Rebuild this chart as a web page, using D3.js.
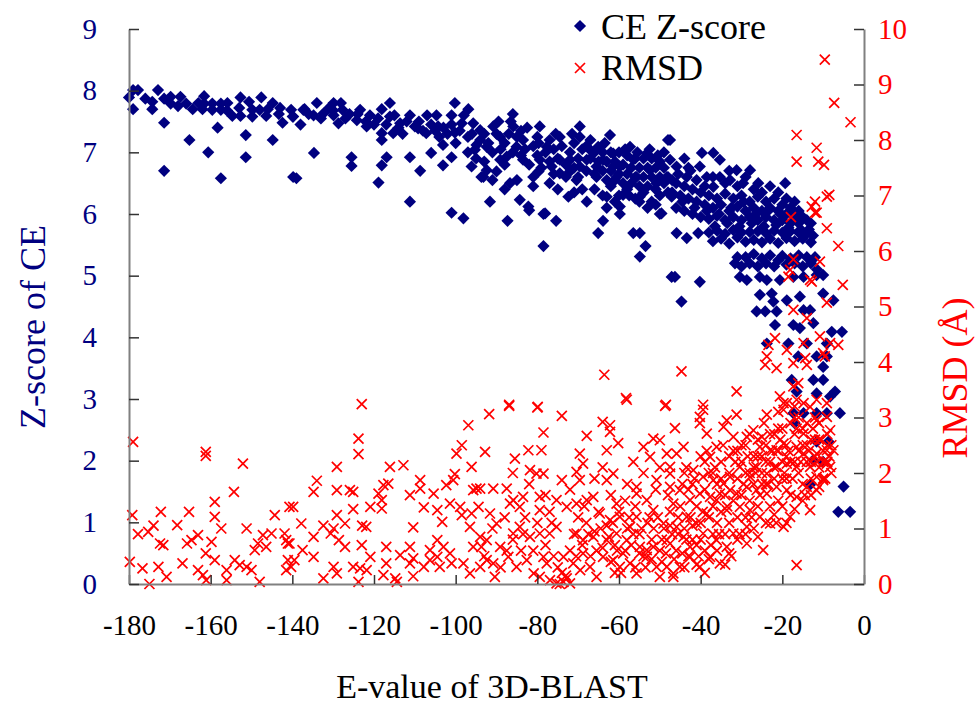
<!DOCTYPE html>
<html>
<head>
<meta charset="utf-8">
<script src="https://cdn.jsdelivr.net/npm/d3@7"></script>
<style>
  body { margin: 0; background: #fff; }
  text { font-family: "Liberation Serif", "Times New Roman", serif; }
</style>
</head>
<body>
<svg id="chart" width="976" height="704"></svg>
<script>
// Tick values for the three axes
const eValueTicks = [-180, -160, -140, -120, -100, -80, -60, -40, -20, 0];
const zTicks = [0, 1, 2, 3, 4, 5, 6, 7, 8, 9];
const rmsdTicks = [0, 1, 2, 3, 4, 5, 6, 7, 8, 9, 10];

// CE Z-score per alignment: [E-value of 3D-BLAST, Z-score]
const ceZscore = [
  [-180,7.89],[-179,8.01],[-177.8,8.01],[-179,7.70],[-176,7.87],[-174.3,7.82],[-174.3,7.70],[-172.9,8.01],
  [-171.4,7.87],[-169.8,7.90],[-169.8,7.79],[-171.4,7.48],[-171.4,6.70],[-167.4,7.90],[-166,7.79],[-164.4,7.70],
  [-165.2,7.20],[-161.6,7.91],[-161.6,7.79],[-162,7.70],[-159.6,7.79],[-159.6,7.69],[-160.6,7.0],[-158.3,7.40],
  [-157.5,7.79],[-157.5,7.69],[-157.5,6.58],[-155.9,7.80],[-154.7,7.59],[-152.7,7.89],[-152.7,7.59],[-151.4,7.28],
  [-151.4,6.92],[-150.6,7.82],[-149.8,7.69],[-149.8,7.58],[-147.6,7.89],[-148,7.69],[-146.4,7.59],[-144.8,7.80],
  [-144.8,7.20],[-143.3,7.62],[-142.4,7.48],[-140.3,7.69],[-139.9,7.58],[-139,6.58],
  [-168,7.75],[-163,7.8],[-156,7.68],[-153,7.72],[-146,7.7],[-143,7.72],[-138,7.45],
  [-139.8,7.58],[-139.8,6.60],[-137.3,7.69],[-134.7,6.99],[-134,7.80],[-134.8,7.60],[-132.4,7.63],[-129.9,7.80],
  [-129.9,7.60],[-128.7,7.47],[-128.1,7.80],[-127.7,7.69],[-125.5,6.92],[-125.5,6.78],[-124.2,7.52],[-123.4,7.69],
  [-121.8,7.42],[-118.9,6.51],[-118.1,7.70],[-118.1,7.31],[-118.1,7.20],[-118.1,6.79],[-116.9,6.92],[-116.1,7.80],
  [-116.1,7.58],[-115.3,7.31],[-113.6,7.47],[-111.2,7.60],[-111.2,6.92],[-111.2,6.20],[-109.2,7.39],[-108.7,6.70],
  [-107.2,7.31],[-106,6.99],[-104.7,7.60],[-104.3,7.42],[-103.1,7.12],[-103.1,6.79],[-101,6.92],[-101,7.60],
  [-100.2,7.80],[-100.2,7.32],[-101,6.02],[-98.1,5.93],[-98.5,7.47],[-96.9,7.70],[-95.7,7.47],[-96.1,6.77],
  [-95.3,7.04],[-94.9,7.12],[-93.7,6.60],
  [-137,7.7],[-136,7.62],[-131,7.72],[-127,7.55],[-126,7.62],[-122,7.5],[-121,7.6],[-120,7.45],[-114,7.4],
  [-112,7.5],[-110,7.42],[-108,7.35],[-106,7.45],[-105,7.35],[-103,7.4],[-102,7.3],[-99,7.35],[-97,7.25],
  [-96,7.3],[-94,7.2],
  [-133,7.55],[-130,7.68],[-124,7.62],[-119,7.55],[-117,7.45],[-115,7.6],[-113,7.3],[-109,7.5],[-107,7.6],
  [-104,7.25],[-101,7.45],[-100,7.15],[-98,7.6],[-97,7.0],[-95,6.9],[-93,6.85],[-91,6.55],
  [-86,7.62],[-94,7.36],[-90.8,7.42],[-89.1,7.25],[-93.2,6.60],[-92.4,7.09],[-90,6.69],[-91.6,6.20],[-86.7,6.50],
  [-87.5,6.93],[-85.9,7.42],[-85.1,7.09],[-83.5,7.20],[-84.3,6.23],[-82.2,6.12],[-79.4,7.42],[-79.7,7.15],
  [-79.4,6.88],[-79.7,6.69],[-78.1,6.01],[-77.7,7.09],[-76.5,6.77],[-74.5,7.25],[-74.5,6.88],[-74.5,6.66],
  [-72.4,6.28],[-72,6.69],[-69.6,7.42],[-69.6,7.25],[-70.4,6.55],[-67.9,6.88],[-67.9,6.20],[-67.1,7.04],
  [-65.5,6.60],[-65.1,7.09],[-63.9,6.88],[-63,6.28],[-62.2,7.28],[-61.4,6.77],[-60.6,6.60],[-59.8,6.12],
  [-59,6.31],[-57.3,7.09],[-56.5,6.88],[-55.7,6.60],[-54.9,6.28],[-53.2,6.98],[-52.4,6.71],[-50.8,6.50],
  [-49.6,6.01],[-48,7.20],[-47.5,6.88],[-48.3,6.60],[-47.1,6.28],[-61.4,6.98],[-59.8,6.77],[-69.6,6.77],
  [-65.5,6.77],[-72,6.88],[-83.5,6.88],[-89.1,6.88],[-92.4,6.71],
  [-93,7.3],[-92,7.15],[-91,7.0],[-90,7.3],[-89,7.05],[-88,7.15],[-88,6.8],[-87,7.3],[-86,7.0],[-85,7.25],
  [-84,6.95],[-84,7.35],[-83,7.05],[-82,6.8],[-81,7.1],[-81,6.6],[-80,7.25],[-80,6.95],[-79,6.75],[-78,7.0],
  [-77,7.2],[-77,6.85],[-76,6.65],[-76,7.05],[-75,6.9],[-74,7.1],[-73,6.8],[-73,6.6],[-72,7.0],[-71,6.75],
  [-71,7.15],[-70,6.9],[-70,6.6],[-69,7.05],[-68,6.7],[-68,7.1],[-67,6.9],[-66,6.65],[-66,7.0],[-65,6.85],
  [-64,6.7],[-64,7.0],[-63,6.55],[-63,6.85],[-62,7.0],[-62,6.7],[-61,6.55],[-61,6.85],[-60,6.65],[-60,7.0],
  [-59,6.5],[-59,6.8],[-58,6.95],[-58,6.65],[-57,6.5],[-57,6.75],[-56,6.9],[-56,6.6],[-55,6.75],[-55,6.45],
  [-54,6.9],[-54,6.6],[-53,6.75],[-53,6.45],[-52,6.6],[-52,6.9],[-51,6.75],[-51,6.4],[-50,6.6],[-50,6.85],
  [-49,6.5],[-49,6.75],[-48,6.6],[-48,6.35],[-66,6.4],[-64,6.3],[-62,6.45],[-60,6.3],[-58,6.4],[-56,6.25],
  [-54,6.35],[-52,6.2],[-50,6.3],
  [-58.5,7.05],[-55.5,7.0],[-52.5,7.05],[-50.5,6.95],[-49,7.0],[-63.5,7.15],[-67,7.2],[-71.5,7.3],[-75.5,7.3],
  [-82.5,7.4],[-86.5,7.5],[-89.5,7.5],[-57.5,6.3],[-55,6.2],[-53,6.1],[-51,6.15],[-61,6.2],[-63,6.1],[-69,6.4],
  [-71,6.35],[-75,6.4],[-77,6.5],[-81,6.45],[-85,6.55],[-88,6.4],
  [-87.3,5.89],[-82,6.06],[-78.5,6.0],[-75.4,5.89],[-78.5,5.48],[-63.9,5.89],[-65.1,5.69],[-59.8,6.0],
  [-56.5,5.69],[-54.9,5.69],[-53.5,5.48],[-54.9,5.31],[-50,6.0],[-47.1,4.98],
  [-47.5,7.20],[-39.7,6.99],[-36.9,6.99],[-35.3,6.88],[-40.2,6.77],[-45.9,6.77],[-43.4,6.60],[-38.5,6.60],
  [-35.3,6.60],[-31.2,6.71],[-27.9,6.71],[-32.8,6.55],[-29.6,6.50],[-25.9,6.50],[-19.3,6.50],[-36.9,6.44],
  [-47,6.55],[-45.5,6.65],[-44,6.9],[-42.5,6.7],
  [-46,6.5],[-44,6.45],[-43,6.75],[-41,6.55],[-39,6.45],[-37,6.6],[-34,6.5],[-33,6.7],[-31,6.45],[-29,6.6],
  [-27,6.4],[-25,6.35],[-23,6.45],[-21,6.35],[-19,6.25],[-17,6.2],[-16,6.05],[-14,5.9],[-13,5.85],
  [-47,6.35],[-46,6.1],[-45,6.3],[-44,6.05],[-43,6.25],[-42,6.4],[-42,6.0],[-41,6.2],[-40,6.35],[-40,5.95],
  [-39,6.15],[-38,6.3],[-38,5.92],[-37,6.1],[-36,6.25],[-36,5.97],[-35,6.15],[-34,6.33],[-34,5.9],[-33,6.05],
  [-32,6.25],[-32,5.95],[-31,6.12],[-30,6.3],[-30,5.9],[-29,6.05],[-28,6.2],[-28,5.95],[-27,6.1],[-26,6.28],
  [-26,5.9],[-25,6.05],[-24,6.2],[-24,5.95],[-23,6.1],[-22,5.9],[-22,6.25],[-21,6.05],[-20,6.15],[-20,5.9],
  [-19,6.0],[-18,6.1],[-18,5.85],[-17,5.95],[-16,5.85],[-15,5.95],
  [-44.5,6.2],[-41.5,6.1],[-38.5,6.05],[-35.5,6.0],[-32.5,6.1],[-29.5,6.2],[-26.5,6.0],[-23.5,6.05],
  [-20.5,6.0],[-17.5,6.05],[-36.5,5.8],[-33.5,5.85],[-30.5,5.8],[-27.5,5.85],[-24.5,5.8],[-21.5,5.82],
  [-18.5,5.78],[-15.5,5.75],[-13.5,5.75],
  [-45.9,5.69],[-43.4,5.61],[-40.6,5.69],
  [-38,5.7],[-37,5.56],[-36,5.73],[-35,5.6],[-34,5.68],[-33,5.52],[-32,5.74],[-31,5.62],[-30,5.7],[-29,5.55],
  [-28,5.71],[-27,5.58],[-26,5.72],[-25,5.54],[-24,5.69],[-23,5.6],[-22,5.73],[-21,5.53],[-20,5.7],[-19,5.61],
  [-18,5.72],[-17,5.56],[-16,5.7],[-15,5.6],[-14,5.68],[-13,5.54],[-12.5,5.65],
  [-46.3,4.98],[-40.2,4.90],[-44.7,4.58],
  [-31,5.3],[-30,5.15],[-29,5.3],[-28,5.2],[-27,5.35],[-26,5.15],[-25,5.28],[-24,5.2],[-23,5.33],[-22,5.15],
  [-21,5.25],[-20,5.32],[-19,5.18],[-18,5.28],[-17,5.2],[-16,5.33],[-15,5.15],[-14,5.3],[-13,5.2],[-12,5.3],
  [-11.5,5.1],
  [-31.6,5.2],[-30.4,4.98],[-28.7,4.93],[-25.5,4.98],[-23.8,4.93],[-20.6,4.93],[-17.3,4.98],[-14.8,4.98],
  [-11.6,5.01],[-10,5.01],[-25.5,4.69],[-22.6,4.71],[-22.2,4.58],[-18.9,4.60],[-26.3,4.42],[-24.2,4.42],
  [-21.4,4.42],[-21.8,4.20],[-15.7,4.66],[-14.8,4.44],[-13.2,4.44],[-10,4.71],[-7.5,4.60],[-17.3,4.20],
  [-15.7,4.15],[-12.4,4.23],[-7.9,4.09],[-5.4,4.09],[-23.8,3.90],[-18.5,3.90],[-16.1,3.69],[-14,3.90],
  [-11.6,3.69],[-9.1,3.69],[-10,3.52],[-9.1,3.90],[-17.7,3.31],[-12.4,3.31],[-10,3.31],[-16.5,3.12],
  [-7.1,3.12],[-8.3,3.04],[-11.6,3.09],
  [-17.3,2.77],[-14.8,2.77],[-11.6,2.77],[-9.1,2.77],[-5.9,2.77],[-17,2.61],[-11.6,2.31],[-8.7,2.31],
  [-12.4,2.01],[-10,1.98],[-13.2,1.61],[-5,1.58],[-6.3,1.17],[-3.4,1.17]
];

// RMSD per alignment: [E-value of 3D-BLAST, RMSD in Å]
const rmsd = [
  [-179,2.56],[-179.2,1.24],[-179.8,0.40],[-177.8,0.90],[-176.7,0.28],[-175.3,0.94],[-174,1.05],[-175,0.0],
  [-172.2,1.30],[-172.4,0.73],[-171.6,0.70],[-172.8,0.31],[-170.8,0.13],[-168.2,1.06],[-166.9,0.37],[-165.3,1.30],
  [-165.8,0.73],[-164.7,0.79],[-163.1,0.88],[-163.1,0.25],[-161.9,0.16],[-161.2,2.38],[-161.2,2.31],[-161.1,0.07],
  [-161.2,0.55],[-159.8,0.76],[-159,1.48],[-159,1.21],[-159,0.43],[-157.4,1.00],[-156.1,0.25],[-156.1,0.07],
  [-154.3,1.66],[-154.1,0.43],[-152.9,0.34],[-152.1,2.17],[-151.2,1.00],[-151.2,0.31],[-150,0.25],[-149.2,0.61],
  [-148.4,0.73],[-148,0.04],[-147.2,0.88],[-146.4,0.67],[-145.1,0.91],[-144.3,1.24],[-141.9,0.91],[-141.5,0.79],
  [-141.1,0.73],[-140.7,1.39],[-141.1,0.43],[-141.5,0.25],[-140.3,0.31],
  [-123,3.24],[-123.8,2.62],[-123.8,2.34],[-129.1,2.11],[-134,1.86],[-134.8,1.66],[-129.1,1.69],[-125.9,1.69],
  [-125.1,1.66],[-139.8,1.39],[-125.1,1.35],[-129.1,1.24],[-137.8,1.09],[-132.4,1.05],[-129.9,1.00],[-127.1,1.09],
  [-122.9,1.05],[-130.6,0.91],[-128.6,0.79],[-134.8,0.85],[-140.7,0.73],[-137.5,0.61],[-139.5,0.43],[-134.8,0.49],
  [-127.1,0.67],[-123,0.70],[-120.9,0.49],[-132.4,0.10],[-129.9,0.31],[-129.1,0.19],[-125.1,0.31],[-123.4,0.28],
  [-121.8,0.25],[-123.8,0.04],[-116.1,2.11],[-112.8,2.14],[-117.7,1.78],[-116.5,1.81],[-118.9,1.63],[-118.1,1.51],
  [-120.9,1.39],[-118.1,1.36],[-121.9,1.03],[-117,0.67],[-117,0.37],[-117.7,0.16],[-114.4,0.04],[-114.8,0.10],
  [-111.2,1.60],[-108.7,1.87],[-108.7,1.72],[-107.8,1.38],[-110.4,1.02],[-111.2,0.67],[-110.4,0.46],[-113.6,0.52],
  [-111.2,0.37],[-110.4,0.14],[-105.4,1.63],[-104.5,1.33],[-103.3,1.12],[-104.5,0.79],[-106.3,0.61],[-104.5,0.49],
  [-103,0.67],[-102.3,1.78],[-100.6,1.87],[-100.2,1.98],[-99.8,2.35],[-98.5,2.50],[-96.9,2.86],[-96.1,2.11],
  [-101.4,1.45],[-98.9,1.39],[-98.5,1.24],[-96.1,1.27],[-94.4,1.39],[-96.5,1.03],[-95.7,1.69],[-94.9,1.72],
  [-101,0.37],[-98.1,0.37],[-96.5,0.19],[-95.7,0.67],[-93.7,0.67],[-106.3,0.43],[-107.8,0.31],[-103.9,0.31],
  [-101.4,0.55],
  [-86.9,3.21],[-80,3.18],[-91.8,3.06],[-74,3.03],[-78.5,2.73],[-64,2.92],[-62.2,2.86],[-62.2,2.74],
  [-58.1,3.32],[-48.7,3.21],[-67.9,2.67],[-60.2,2.54],[-92.8,2.38],[-85.5,2.26],[-82.2,2.41],[-79,2.41],
  [-63,2.41],[-69.6,2.35],[-68.8,2.17],[-81.8,2.05],[-80.2,1.99],[-78.5,1.99],[-74,1.87],[-70.4,2.02],
  [-69.6,1.87],[-61.4,1.99],[-63,1.87],[-54,2.47],[-51.6,2.62],[-50,2.59],[-56.5,2.20],[-52.4,2.29],
  [-48.3,2.35],[-55.7,1.75],[-55.7,1.63],[-50.8,1.87],[-47.5,1.99],[-94,1.72],[-90.8,1.72],[-87.5,1.72],
  [-85.9,1.51],[-83.5,1.57],[-79.4,1.57],[-91.6,1.27],[-90,1.09],[-86.7,1.45],[-84.3,1.39],[-79.4,1.33],
  [-75.3,1.51],[-72.8,1.39],[-70.4,1.45],[-67.9,1.51],[-66.3,1.57],[-64.7,1.27],[-62.2,1.15],[-60.6,1.45],
  [-59.8,1.21],[-57.3,1.03],[-55.7,1.21],[-53.2,1.51],[-51.6,1.33],[-49.1,1.09],[-46.7,1.45],[-94,0.85],
  [-92.4,0.79],[-89.1,0.67],[-85.9,0.91],[-84.3,1.03],[-81.8,0.85],[-79.4,0.91],[-77,0.91],[-75.3,1.03],
  [-70.4,0.91],[-68.8,0.79],[-66.3,0.85],[-63,0.79],[-60.6,0.91],[-58.1,0.79],[-54.9,0.67],[-53.2,0.61],
  [-51.6,0.67],[-48.3,0.79],[-92.4,0.43],[-90.8,0.37],[-94,0.31],[-90.4,0.13],[-87.1,0.49],[-85.1,0.31],
  [-82.6,0.43],[-80.9,0.19],[-78.5,0.49],[-77.7,0.37],[-79.4,0.13],[-76.9,0.07],[-75.3,0.01],[-73.6,0.04],
  [-72,0.01],[-74.5,0.0],[-72.8,0.10],[-73.6,0.49],[-71.2,0.37],[-68.8,0.55],[-67.1,0.31],[-65.5,0.13],
  [-63.9,0.49],[-61.4,0.43],[-59.8,0.31],[-57.3,0.37],[-55.7,0.19],[-53.2,0.49],[-50.8,0.31],[-48.3,0.31],
  [-50,0.13],[-46.7,0.19],
  [-93,0.5],[-91,1.0],[-89,0.3],[-88,1.2],[-86,0.8],[-84,0.6],[-83,1.2],[-81,0.6],[-80,1.1],[-78,0.7],
  [-77,1.3],[-76,0.5],[-75,0.3],[-74,0.2],[-73,0.15],[-72,0.6],[-71,0.9],[-70,1.2],[-69,0.7],[-68,1.1],
  [-67,0.5],[-66,0.95],[-65,1.3],[-64,0.65],[-63,1.05],[-62,0.4],[-61,0.7],[-60,1.3],[-59,0.55],[-58,1.0],
  [-57,0.7],[-56,1.4],[-55,0.9],[-54,0.5],[-53,1.1],[-52,0.8],[-51,1.7],[-50,0.6],[-49,1.0],[-48,1.6],
  [-47,0.9],[-66,1.9],[-64,2.1],[-62,1.6],[-58,1.8],[-54,2.0],[-50,2.1],[-86,2.0],[-82,1.8],[-78,1.6],[-72,1.7],
  [-56.5,0.9],[-52.5,1.2],[-49.5,0.8],[-47.5,1.3],[-45.5,0.9],[-60.5,0.6],[-64.5,1.0],[-68.5,1.4],[-70.5,0.5],
  [-76.5,1.1],[-83.5,0.9],[-87.5,0.6],[-58.5,1.5],[-61.5,1.1],
  [-59.5,0.2],[-58.5,0.6],[-57.5,1.2],[-56,0.3],[-55,0.55],[-54.5,1.0],[-53.5,0.3],[-52,0.45],[-51.5,1.0],
  [-50.5,1.2],[-49.5,0.4],[-48.5,0.55],[-47.5,1.05],[-46.5,0.45],[-45.5,1.2],[-44.5,0.55],[-43.5,0.8],
  [-42,1.05],[-41,0.35],[-40,0.8],[-65.5,0.6],[-67.5,0.9],[-69.5,0.25],[-62.5,0.85],[-61,0.2],
  [-46.3,2.81],[-40.2,3.01],[-40.2,2.90],[-39.4,3.14],[-31.2,3.05],[-33.6,2.95],[-34.4,2.83],[-23.8,3.05],
  [-19.7,3.26],[-19.7,3.14],[-13.2,3.19],[-9.1,3.01],[-8.3,2.77],[-11.6,2.95],[-44.2,2.47],[-45.9,2.35],
  [-38.5,2.71],[-37.7,2.29],[-36.1,2.47],[-32,2.65],[-28.7,2.65],[-27.1,2.77],[-25.5,2.47],[-23,2.41],
  [-21.4,2.41],[-19.7,2.53],[-16.5,2.47],[-14.8,2.71],[-14.8,2.35],[-11.6,2.35],[-9.1,2.41],[-7.5,2.41],
  [-8.3,2.11],[-10,1.87],[-11.6,1.93],[-13.2,2.11],[-16.5,2.11],[-18.9,2.17],[-21.4,2.11],[-23.8,1.99],
  [-26.3,2.11],[-27.9,1.93],[-30.4,2.11],[-32.8,1.93],[-34.4,1.81],[-36.9,1.87],[-39.4,1.93],[-41.8,2.05],
  [-47.5,2.11],[-47.5,1.75],[-45.1,1.69],[-42.6,1.51],[-40.2,1.63],[-37.7,1.57],[-35.3,1.63],[-32.8,1.69],
  [-31.2,1.63],[-28.7,1.75],[-26.3,1.69],[-23.8,1.63],[-21.4,1.75],[-18.9,1.69],[-16.5,1.57],[-14,1.75],
  [-11.6,1.69],[-9.1,2.17],[-13.2,1.33],[-18.1,1.21],[-19.7,1.03],[-23,1.09],[-24.7,0.61],[-28.7,0.73],
  [-27.9,1.33],[-30.4,1.39],[-33.6,1.33],[-36.1,1.51],[-38.5,1.27],[-41,1.09],[-43.4,1.21],[-45.9,1.03],
  [-47.5,0.73],[-44.2,0.85],[-39.4,0.91],[-36.1,0.79],[-33.6,0.67],[-32,0.91],[-28.7,1.03],[-35.3,0.37],
  [-37.7,0.49],[-40.2,0.31],[-42.6,0.49],[-45.1,0.31],[-46.7,0.13],[-16.5,0.34],[-42.6,0.67],[-25.5,1.21],
  [-45,1.4],[-44,1.0],[-43,1.7],[-42,0.8],[-41,1.4],[-40,1.1],[-40,2.3],[-39,0.6],[-39,1.7],[-38,1.2],
  [-38,2.0],[-37,0.9],[-37,1.4],[-36,1.8],[-36,1.1],[-35,2.2],[-35,1.3],[-34,0.9],[-34,1.6],[-33,2.0],
  [-33,1.1],[-32,2.4],[-32,1.5],[-31,1.2],[-31,1.9],[-30,2.2],[-30,1.6],[-29,2.5],[-29,1.2],[-28,2.0],
  [-28,1.5],[-27,2.3],[-27,1.8],[-26,2.6],[-26,1.4],[-25,2.0],[-25,2.3],[-24,1.8],[-24,2.5],[-23,1.4],
  [-23,2.2],[-22,2.7],[-22,1.9],[-21,2.4],[-21,1.5],[-20,2.2],[-20,2.8],[-19,1.9],[-19,2.5],[-18,2.9],
  [-18,1.6],[-17,2.2],[-17,2.7],[-16,2.0],[-16,3.0],[-15,2.5],[-15,1.8],[-14,2.2],[-14,2.9],[-13,2.6],
  [-13,1.9],[-12,2.3],[-12,3.0],[-11,2.1],[-11,2.6],[-10,2.4],[-10,1.9],[-9,2.7],[-9,2.2],[-8,2.0],[-8,2.5],
  [-44.5,1.8],[-43.5,2.1],[-42.5,1.2],[-41.5,1.9],[-40.5,0.5],[-39.5,1.3],[-38.5,2.4],[-37.5,0.7],[-36.5,2.1],
  [-35.5,0.9],[-34.5,2.5],[-33.5,1.4],[-32.5,0.5],[-31.5,2.2],[-30.5,0.9],[-29.5,1.8],[-28.5,2.3],[-27.5,1.2],
  [-26.5,2.0],[-25.5,1.6],[-24.5,2.9],[-23.5,1.8],[-22.5,2.4],[-21.5,1.1],[-20.5,2.6],[-19.5,2.0],[-18.5,2.4],
  [-17.5,1.9],[-16.5,2.8],[-15.5,2.2],[-14.5,1.6],[-13.5,2.4],[-12.5,2.8],[-11.5,2.2],[-10.5,2.6],[-9.5,1.9],
  [-8.5,2.3],
  [-30,2.5],[-29,2.0],[-28,2.7],[-27,2.1],[-26,2.3],[-25,1.8],[-24,2.2],[-23,2.7],[-22,2.1],[-21,2.8],
  [-20,1.9],[-19,2.3],[-18,2.2],[-17,3.0],[-16,2.4],[-15,2.8],[-14,2.5],[-13,2.2],[-12,2.6],[-11,2.9],
  [-10,2.2],[-9,2.5],[-21,3.1],[-17,3.2],[-25,2.65],[-31,2.4],[-33,2.3],[-35,1.9],[-37,2.0],[-39,2.2],
  [-42,1.8],[-44,2.0],
  [-46,0.6],[-44,0.3],[-43,0.5],[-41,0.7],[-39,0.2],[-38,0.45],[-36,0.6],[-34,0.35],[-33,0.55],[-31,0.8],
  [-29,0.9],[-27,1.0],[-26,0.85],[-24,1.1],[-22,1.25],[-20,1.4],[-19,1.1],[-17,1.35],[-15,1.5],[-13,1.6],[-11,1.75],
  [-17.9,6.61],[-9.1,6.41],[-12,6.69],[-6.3,6.09],[-17.3,5.85],[-10.8,5.81],[-18.1,5.66],[-18.5,5.54],
  [-13.2,5.48],[-12.8,5.45],[-5.2,5.39],[-9.1,5.07],[-17.3,4.94],[-14,4.79],[-10.8,4.46],[-8.3,4.34],
  [-6.3,4.31],[-21.8,4.43],[-23.4,4.31],[-18.9,4.22],[-14.8,4.34],[-23.8,4.10],[-17.3,3.98],[-14.4,4.07],
  [-10,4.16],[-9.6,4.10],[-24.2,3.95],[-21.4,3.89],[-14,3.95],[-44.7,3.83],[-31.2,3.47],[-20.6,3.38],
  [-17.3,3.56],[-16.1,3.62],[-18.9,3.26],[-16.5,3.32],[-14.8,3.26],[-11.6,3.32],[-9.1,3.26],[-39.4,3.23],
  [-9.6,9.45],[-7.3,8.67],[-3.3,8.32],[-16.5,8.09],[-11.6,7.86],[-16.5,7.61],[-11.2,7.61],[-9.8,7.55],
  [-8.5,7.01],[-9.1,6.98],[-12,6.89],[-12.8,6.80],[-11.6,6.69],
  [-63.6,3.77],[-58.3,3.35],[-48.5,3.23],[-86.9,3.23],[-79.9,3.19]
];

const svg = d3.select("#chart");
const navy = "#000080";
const red = "#ff0000";
const serif = '"Liberation Serif", "Times New Roman", serif';

const x = d3.scaleLinear().domain([-180, 0]).range([129, 864]);
const yZ = d3.scaleLinear().domain([0, 9]).range([584, 29]);
const yR = d3.scaleLinear().domain([0, 10]).range([584, 29]);

// Markers: navy diamonds for Z-score, red crosses for RMSD
const diamond = "M0,-6.1L6.1,0L0,6.1L-6.1,0Z";
const cross = "M-5,-5L5,5M-5,5L5,-5";

svg.append("g").selectAll("path").data(ceZscore).join("path")
  .attr("d", diamond)
  .attr("transform", d => `translate(${x(d[0])},${yZ(d[1])})`)
  .attr("fill", navy);

svg.append("g").selectAll("path").data(rmsd).join("path")
  .attr("d", cross)
  .attr("transform", d => `translate(${x(d[0])},${yR(d[1])})`)
  .attr("fill", "none")
  .attr("stroke", red)
  .attr("stroke-width", 1.7);

// Axes with inward-pointing ticks
function styleAxis(g, color) {
  g.select(".domain").attr("stroke", "#808080").attr("stroke-width", 2);
  g.selectAll(".tick line").attr("stroke", "#333").attr("stroke-width", 1.5);
  g.selectAll(".tick text").attr("fill", color)
    .style("font-family", serif)
    .style("font-size", "29px");
}

svg.append("g").attr("transform", "translate(0,584)")
  .call(d3.axisBottom(x).tickValues(eValueTicks).tickFormat(d => String(d))
        .tickSizeInner(-9).tickSizeOuter(0).tickPadding(30))
  .call(g => styleAxis(g, "#000"));

svg.append("g").attr("transform", "translate(129,0)")
  .call(d3.axisLeft(yZ).tickValues(zTicks).tickSizeInner(-10).tickSizeOuter(0).tickPadding(32))
  .call(g => styleAxis(g, navy));

svg.append("g").attr("transform", "translate(864,0)")
  .call(d3.axisRight(yR).tickValues(rmsdTicks).tickSizeInner(-10).tickSizeOuter(0).tickPadding(14))
  .call(g => styleAxis(g, red));

// Axis titles
svg.append("text")
  .attr("transform", "translate(45,327) rotate(-90)")
  .attr("text-anchor", "middle").attr("fill", navy)
  .style("font-size", "36px").text("Z-score of CE");

svg.append("text")
  .attr("transform", "translate(967,378) rotate(-90)")
  .attr("text-anchor", "middle").attr("fill", red)
  .style("font-size", "36px").text("RMSD (Å)");

svg.append("text")
  .attr("x", 492).attr("y", 698)
  .attr("text-anchor", "middle").attr("fill", "#000")
  .style("font-size", "34px").text("E-value of 3D-BLAST");

// Legend
const legend = svg.append("g");
legend.append("path").attr("d", diamond).attr("transform", "translate(580,26)").attr("fill", navy);
legend.append("text").attr("x", 601).attr("y", 39).style("font-size", "36px").text("CE Z-score");
legend.append("path").attr("d", cross).attr("transform", "translate(580,68)")
  .attr("fill", "none").attr("stroke", red).attr("stroke-width", 1.7);
legend.append("text").attr("x", 601).attr("y", 80).style("font-size", "36px").text("RMSD");
</script>
</body>
</html>
